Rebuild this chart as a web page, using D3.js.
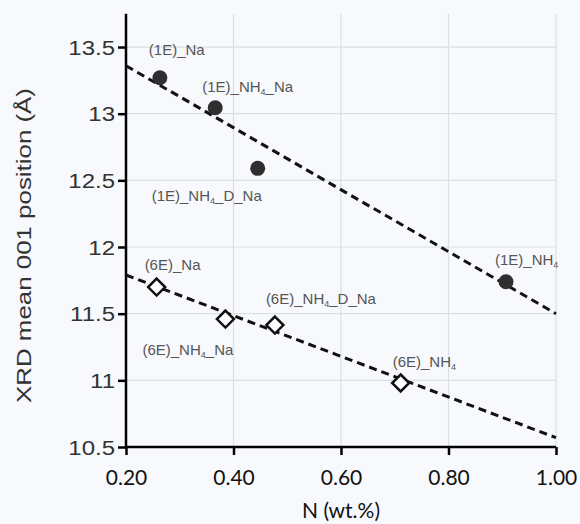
<!DOCTYPE html>
<html>
<head>
<meta charset="utf-8">
<script src="https://cdn.jsdelivr.net/npm/d3@7"></script>
<style>
  body { margin: 0; background: #f8f9fc; }
  svg { display: block; }
</style>
</head>
<body>
<svg></svg>
<script>
const width = 580
const height = 524

// N content (wt.%) and mean 001 position for each sample
const samples = ["(1E)_Na", "(1E)_NH4_Na", "(1E)_NH4_D_Na", "(1E)_NH4",
                 "(6E)_Na", "(6E)_NH4_Na", "(6E)_NH4_D_Na", "(6E)_NH4"];
const series = ["1E", "1E", "1E", "1E", "6E", "6E", "6E", "6E"];
const nWt = [0.263, 0.366, 0.445, 0.907, 0.257, 0.385, 0.477, 0.711];
const d001 = [13.27, 13.045, 12.59, 11.74, 11.70, 11.46, 11.415, 10.98];

// dashed trend lines, read at both ends of the axis
const trendX = [0.2, 1.0];
const trend1E = [13.36, 11.50];
const trend6E = [11.79, 10.57];

const xTicks = [0.2, 0.4, 0.6, 0.8, 1.0];
const yTicks = [10.5, 11, 11.5, 12, 12.5, 13, 13.5];

// label placement relative to its point (px)
const labelOffset = [[-11, -23], [-13, -16], [-106, 33], [-11, -17],
                     [-12, -17], [-83, 36], [-9, -21], [-8, -16]];

const svg = d3.select('svg')
  .attr('width', width)
  .attr('height', height)

const x = d3.scaleLinear().domain([0.2, 1.0]).range([126, 556])
const y = d3.scaleLinear().domain([10.5, 13.75]).range([447, 13.7])

// gridlines
svg.append("g")
  .selectAll("line")
  .data(yTicks.filter(d => d > 10.5))
  .enter()
  .append("line")
  .attr("x1", x(0.2)).attr("x2", x(1.0))
  .attr("y1", d => y(d)).attr("y2", d => y(d))
  .style("stroke", "#d6e1e7")
  .attr("stroke-width", 1.2);

svg.append("g")
  .selectAll("line")
  .data(xTicks.filter(d => d > 0.2))
  .enter()
  .append("line")
  .attr("x1", d => x(d)).attr("x2", d => x(d))
  .attr("y1", y(10.5)).attr("y2", y(13.75))
  .style("stroke", "#d6e1e7")
  .attr("stroke-width", 1.2);

// axes
const yAxis = svg.append("g")
  .attr("transform", "translate(" + x(0.2) + ",0)")
  .call(d3.axisLeft(y).tickValues(yTicks).tickSize(8).tickPadding(3).tickFormat(d3.format("")))
yAxis.select(".domain").attr("stroke-width", 2.5).attr("d", "M0," + y(13.75) + "V" + y(10.5))
yAxis.selectAll(".tick line").attr("stroke-width", 2.5)
yAxis.selectAll("text")
  .style("font-family", "Liberation Sans, Arial, sans-serif")
  .style("font-size", "20px")
  .style("fill", "#333")
  .attr("dy", "0.36em")
  .each(function() {
    // the original tick font is set wider than Arial
    const w = this.getComputedTextLength()
    d3.select(this).attr("textLength", w * 1.2).attr("lengthAdjust", "spacingAndGlyphs")
  })

const xAxis = svg.append("g")
  .attr("transform", "translate(0," + y(10.5) + ")")
  .call(d3.axisBottom(x).tickValues(xTicks).tickSize(8).tickPadding(10).tickFormat(d3.format(".2f")))
xAxis.select(".domain").attr("stroke-width", 2.5).attr("d", "M" + x(0.2) + ",0H" + x(1.0))
xAxis.selectAll(".tick line").attr("stroke-width", 2.5)
xAxis.selectAll("text")
  .style("font-family", "Lato, sans-serif")
  .style("font-size", "21px")
  .style("fill", "#111")
  .attr("dy", "0.95em")

// axis titles
svg.append("text")
  .attr("transform", "translate(31," + 245.5 + ") rotate(-90)")
  .attr("text-anchor", "middle")
  .attr("textLength", 315)
  .attr("lengthAdjust", "spacingAndGlyphs")
  .style("font-family", "Liberation Sans, Arial, sans-serif")
  .style("font-size", "20px")
  .style("fill", "#333")
  .text("XRD mean 001 position (Å)");

svg.append("text")
  .attr("x", 341).attr("y", 518)
  .attr("text-anchor", "middle")
  .style("font-family", "Lato, sans-serif")
  .style("font-size", "21px")
  .style("fill", "#111")
  .text("N (wt.%)");

// trend lines
const line = d3.line().x(d => x(d[0])).y(d => y(d[1]))
svg.append("g")
  .selectAll("path")
  .data([trend1E, trend6E])
  .enter()
  .append("path")
  .attr("d", d => line(trendX.map((t, i) => [t, d[i]])))
  .attr("fill", "none")
  .style("stroke", "#111")
  .attr("stroke-width", 3)
  .attr("stroke-dasharray", "8,5");

const idx = d3.range(samples.length)

// 1E: filled circles
svg.append("g")
  .selectAll("circle")
  .data(idx.filter(i => series[i] == "1E"))
  .enter()
  .append("circle")
  .attr("cx", i => x(nWt[i]))
  .attr("cy", i => y(d001[i]))
  .attr("r", 7.5)
  .attr("fill", "#2f2f2f");

// 6E: open diamonds
svg.append("g")
  .selectAll("path")
  .data(idx.filter(i => series[i] == "6E"))
  .enter()
  .append("path")
  .attr("transform", i => "translate(" + x(nWt[i]) + "," + y(d001[i]) + ")")
  .attr("d", "M0,-8.5L8.5,0L0,8.5L-8.5,0Z")
  .attr("fill", "#fff")
  .style("stroke", "#111")
  .attr("stroke-width", 2.5);

// point labels, "4" of NH4 as subscript
const labels = svg.append("g")
  .selectAll("text")
  .data(idx)
  .enter()
  .append("text")
  .attr("x", i => x(nWt[i]) + labelOffset[i][0])
  .attr("y", i => y(d001[i]) + labelOffset[i][1])
  .style("font-family", "Liberation Sans, Arial, sans-serif")
  .style("font-size", "15px")
  .style("fill", "#555");

labels.each(function(i) {
  const parts = samples[i].split("4")
  const t = d3.select(this)
  parts.forEach((p, k) => {
    if (k > 0) {
      t.append("tspan").attr("dy", 3).style("font-size", "9px").text("4")
      t.append("tspan").attr("dy", -3).text(p)
    } else {
      t.append("tspan").text(p)
    }
  })
});
</script>
</body>
</html>
